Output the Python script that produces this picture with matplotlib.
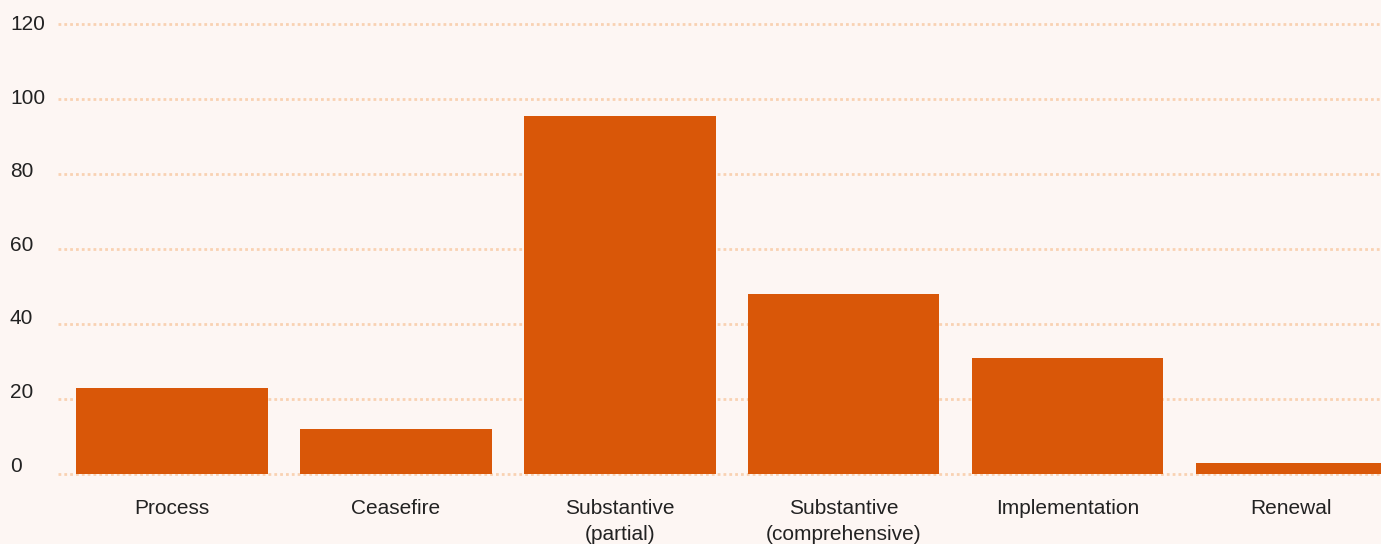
import matplotlib
matplotlib.use("Agg")
import matplotlib.pyplot as plt
import matplotlib.transforms as mtransforms

categories = ["Process", "Ceasefire", "Substantive\n(partial)", "Substantive\n(comprehensive)",
              "Implementation", "Renewal"]
values = [23, 12, 95.5, 48, 31, 3]
y_ticks = [0, 20, 40, 60, 80, 100, 120]

BG = "#fdf6f3"
BAR = "#d95708"
GRID = "#f9d2b2"
TEXT = "#222222"

plt.rcParams['font.family'] = ['Liberation Sans', 'DejaVu Sans']

W, H = 1381, 544
fig = plt.figure(figsize=(W / 100, H / 100), dpi=100, facecolor=BG)
left, right, bottom, top = 58, 1381, 474, 24
ax = fig.add_axes([left / W, (H - bottom) / H, (right - left) / W, (bottom - top) / H])
ax.set_facecolor(BG)

x = list(range(len(categories)))
ax.set_xlim(-0.51, 5.40)
ax.set_ylim(0, 120)

for v in y_ticks:
    ax.axhline(v, color=GRID, linestyle=(0, (1, 1.1)), linewidth=2.0, zorder=0, clip_on=False)

ax.bar(x, values, width=0.855, color=BAR, zorder=2)

for s in ax.spines.values():
    s.set_visible(False)
ax.set_yticks([])
ax.set_xticks(x)
ax.set_xticklabels(categories, fontsize=15, color=TEXT, linespacing=1.5)
ax.tick_params(axis='x', length=0, pad=18)
for lbl in ax.get_xticklabels():
    lbl.set_verticalalignment('top')

# y labels placed at the left
trans = mtransforms.blended_transform_factory(fig.transFigure, ax.transData)
for v in y_ticks:
    pix = 466 - v * (441.5 / 120)
    yd = (474 - pix) / 3.75
    ax.text(10 / W, yd, str(v), transform=trans, ha='left', va='center',
            fontsize=15, color=TEXT, clip_on=False)

fig.savefig("out.png", dpi=100, facecolor=BG)
